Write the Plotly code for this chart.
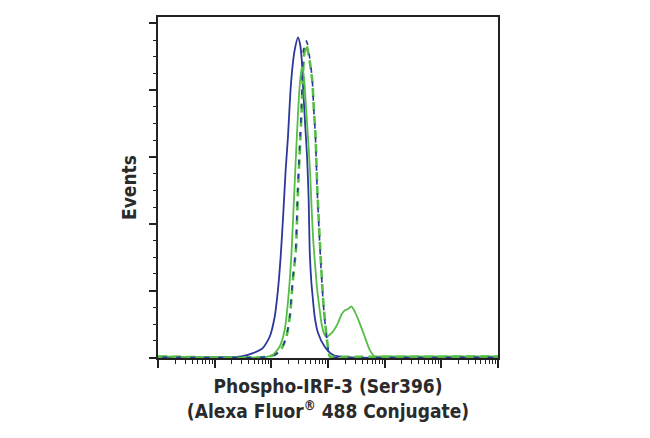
# Flow cytometry histogram - Phospho-IRF-3 (Ser396)
import plotly.graph_objects as go

# Fluorescence intensity (log axis) vs events
x_blue = [1, 29.6, 47.4, 71.3, 93.5, 114.6, 131, 146, 162, 179, 197, 217, 238, 258,
          295, 323, 344, 365, 396, 430, 456, 475, 509, 526, 582, 665, 875, 1211, 1968, 1000000]
y_blue = [0.1, 0.3, 1.3, 2.9, 6.2, 12.2, 20.3, 30.1, 42.7, 56.1, 66.3, 79.5, 87.5, 92.0,
          95.8, 93.6, 89.1, 80.1, 69.6, 59.1, 47.2, 32.2, 22.4, 19.7, 12.2, 7.4, 3.2, 0.8, 0.1, 0.1]

x_green = [1, 81.8, 106.9, 140.6, 172.2, 196.8, 225.9, 246, 274.8, 297.9, 322.8, 350.8,
           380.2, 412.1, 446.7, 485.3, 515.2, 548.3, 582.1, 644.2, 712.9, 774.5, 857, 937.6,
           1072, 1225, 1500, 1722, 1972, 2254, 2588, 2958, 3622, 4436, 5445, 6668, 8166, 1000000]
y_green = [0.3, 0.15, 0.8, 3.3, 8.3, 16.7, 30.7, 44.2, 62.1, 74.1, 83.0, 87.5,
           83.0, 74.1, 65.1, 54.7, 44.2, 35.2, 29.3, 20.3, 14.3, 9.8, 7.1, 6.1,
           6.8, 7.8, 10.3, 12.8, 14.1, 14.5, 15.3, 13.8, 10.3, 6.3, 2.3, 0.3, 0.3, 0.3]

x_green_dash = [1, 76, 115, 152, 186, 213, 238, 272, 296, 328, 345, 360, 378, 415, 445,
                478, 530, 562, 602, 648, 740, 822, 880, 952, 1012, 1078, 1490, 1000000]
y_green_dash = [0.3, 0.1, 0.8, 2.7, 6.4, 12.5, 22.5, 32.5, 50.5, 66.8, 75, 84, 90.5, 93.6, 91.5,
                88.5, 82.5, 74.5, 66.5, 50.3, 30.2, 17.2, 11.2, 5.8, 2.2, 0.3, 0.2, 0.3]

x_blue_dash = [1, 76.4, 114.6, 150.7, 184.5, 210.9, 235.5, 269, 292, 323, 339, 353, 365,
               404, 439, 475, 526, 558, 598, 644, 735, 817, 875, 948, 1007, 1072, 1483, 1000000]
y_blue_dash = [0.1, 0.1, 0.7, 2.6, 6.3, 12.3, 22.3, 32.2, 50.2, 66.6, 74.7, 84.5, 91.4,
               95.1, 93.6, 89.7, 83.6, 74.7, 66.6, 50.2, 30.2, 17.3, 11.3, 5.9, 2.3, 0.2, 0, 0.1]

x_major = [1, 10, 100, 1000, 10000, 100000, 1000000]
x_minor = [k * 10 ** d for d in range(6) for k in range(2, 10)]
y_major = [0, 20, 40, 60, 80, 100]
y_minor = [v for v in range(0, 101, 5) if v % 20 != 0]

blue = 'rgb(45, 55, 155)'
green = 'rgb(85, 190, 70)'

x_data = [x_blue, x_green, x_green_dash, x_blue_dash]
y_data = [y_blue, y_green, y_green_dash, y_blue_dash]
names = ['Blue solid', 'Green solid', 'Green dashed', 'Blue dashed']
colors = [blue, green, green, blue]
widths = [1.8, 1.8, 2.6, 1.6]
dashes = ['solid', 'solid', '9px,5px', '0px,4px,5px,5px']

fig = go.Figure()
for i in range(4):
    fig.add_trace(go.Scatter(
        mode='lines',
        x=x_data[i],
        y=y_data[i],
        name=names[i],
        line=dict(color=colors[i], width=widths[i], dash=dashes[i], shape='spline', smoothing=0.6)
    ))

axis_font = dict(family='DejaVu Sans Condensed, Liberation Sans Narrow, Arial Narrow, sans-serif',
                 size=19, color='#2a2a2a')

# page body adds 8px, so the figure is kept 8px smaller each way
fig.update_layout(
    width=642, height=430,
    margin=dict(l=150, r=152, t=9, b=80),
    paper_bgcolor='white', plot_bgcolor='white',
    showlegend=False
)

fig.update_xaxes(
    type='log',
    range=[0, 6],
    tickmode='array', tickvals=x_major,
    showticklabels=False,
    ticks='outside', ticklen=8, tickwidth=1.5, tickcolor='#222',
    minor=dict(tickmode='array', tickvals=x_minor, ticks='outside', ticklen=4, tickwidth=1, tickcolor='#222'),
    showline=True, linecolor='#222', linewidth=1.5, mirror=True,
    showgrid=False, zeroline=False, automargin=False,
    title=dict(text='<b>Phospho-IRF-3 (Ser396)<br>(Alexa Fluor<sup>®</sup> 488 Conjugate)</b>',
               font=axis_font, standoff=13)
)

fig.update_yaxes(
    range=[-0.15, 101.9],
    tickmode='array', tickvals=y_major,
    showticklabels=False,
    ticks='outside', ticklen=7, tickwidth=1.5, tickcolor='#222',
    minor=dict(tickmode='array', tickvals=y_minor, ticks='outside', ticklen=3, tickwidth=1, tickcolor='#222'),
    showline=True, linecolor='#222', linewidth=1.5, mirror=True,
    showgrid=False, zeroline=False, automargin=False,
    title=dict(text='<b>Events</b>', font=axis_font, standoff=8)
)

fig.write_html("out.html")
